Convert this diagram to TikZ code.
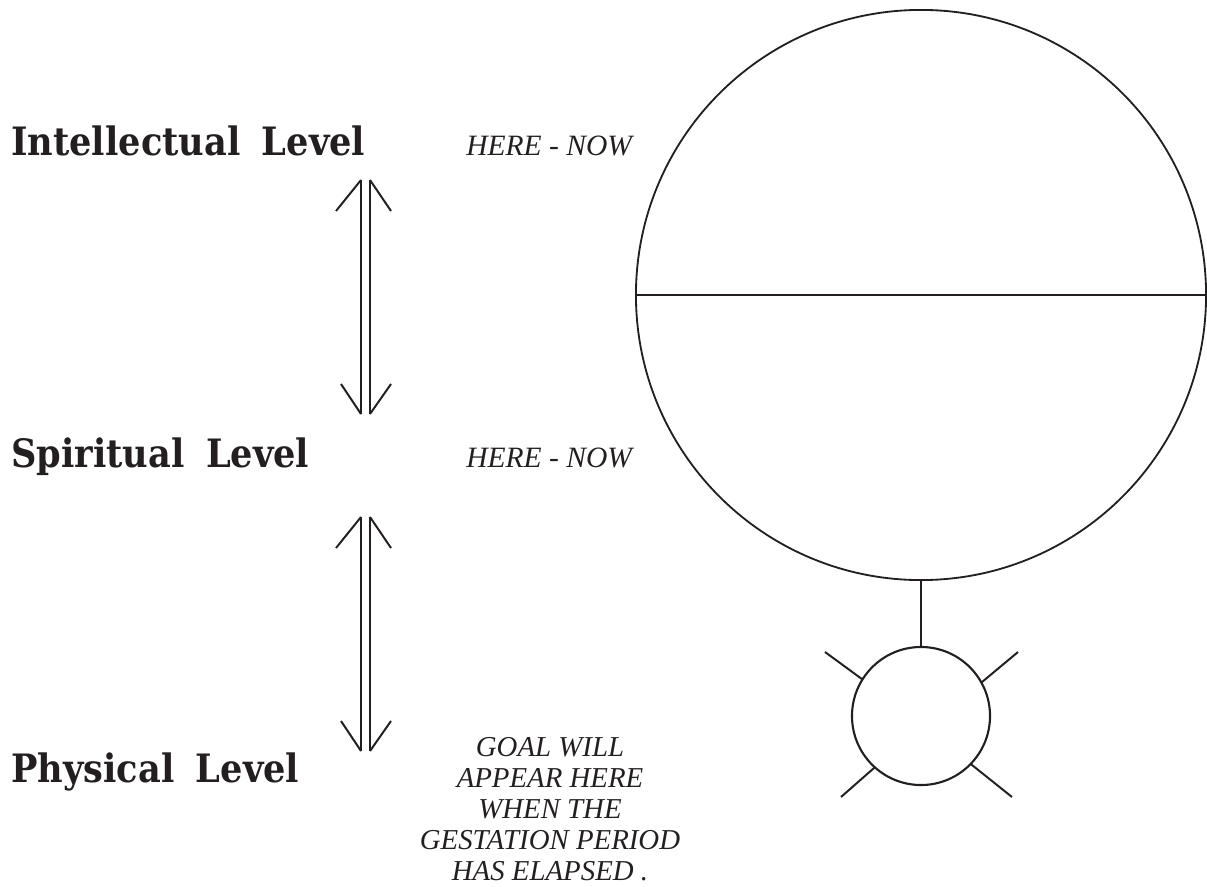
\documentclass[tikz,border=0pt]{standalone}
\usepackage{fontspec}
\newfontfamily\itserif{Liberation Serif}
\newfontfamily\levelserif{DejaVu Serif Condensed}
\usetikzlibrary{positioning,calc}
\definecolor{Ink}{HTML}{231F20}

\begin{document}
\begin{tikzpicture}[x=0.025cm,y=-0.025cm,
  levelname/.style={anchor=base west,inner sep=0pt,text=Ink,font=\levelserif\bfseries\fontsize{27.8}{32}\selectfont},
  herenow/.style={anchor=base west,inner sep=0pt,text=Ink,font=\itserif\itshape\fontsize{21}{22}\selectfont},
  shaft/.style={draw=Ink,line width=0.8pt},
  barb/.style={draw=Ink,line width=1.4pt},
  ring/.style={circle,draw=Ink,line width=1.5pt,inner sep=0pt,outer sep=0pt}]
\useasboundingbox (0,0) rectangle (1207,886);
\node[levelname] (intellectual) at (11,155) {Intellectual\hspace{0.55em}Level};
\node[levelname] (spiritual) at (11,467) {Spiritual\hspace{0.55em}Level};
\node[levelname] (physical) at (11,782) {Physical\hspace{0.55em}Level};
\node[herenow] (now1) at (466,155) {HERE - NOW};
\node[herenow] (now2) at (466,467) {HERE - NOW};
\node[anchor=north,inner sep=0pt,text=Ink,align=center,font=\itserif\itshape\fontsize{20.5}{22}\selectfont] (goaltext) at (550,737)
  {GOAL WILL\\APPEAR HERE\\WHEN THE\\GESTATION PERIOD\\HAS ELAPSED .};
\coordinate (a1) at (361,180); \coordinate (a2) at (361,414);
\coordinate (b1) at (370,180); \coordinate (b2) at (370,414);
\coordinate (c1) at (361,517); \coordinate (c2) at (361,751);
\coordinate (d1) at (370,517); \coordinate (d2) at (370,751);
\draw[shaft] (a1) -- (a2);
\draw[shaft] (b1) -- (b2);
\draw[barb] (a1) -- ++(-25,31);
\draw[barb] (b1) -- ++(21,31);
\draw[barb] (a2) -- ++(-20,-30);
\draw[barb] (b2) -- ++(21,-30);
\draw[shaft] (c1) -- (c2);
\draw[shaft] (d1) -- (d2);
\draw[barb] (c1) -- ++(-25,31);
\draw[barb] (d1) -- ++(21,31);
\draw[barb] (c2) -- ++(-20,-30);
\draw[barb] (d2) -- ++(21,-30);
\node[ring,line width=1.3pt,minimum size=14.25cm] (mind) at (921,295) {};
\draw[barb] (mind.west) -- (mind.east);
\node[ring,minimum size=3.45cm] (goal) at (921,716) {};
\draw[barb] (mind.south) -- (goal.north);
\coordinate (r1) at (825,652); \coordinate (r2) at (1018,652);
\coordinate (r3) at (841,797); \coordinate (r4) at (1012,797);
\draw[barb] (goal.148) -- (r1);
\draw[barb] (goal.29) -- (r2);
\draw[barb] (goal.228) -- (r3);
\draw[barb] (goal.316) -- (r4);
\end{tikzpicture}
\end{document}
